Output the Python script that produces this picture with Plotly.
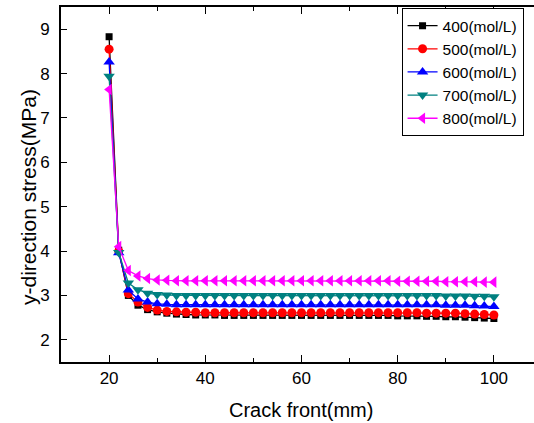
import plotly.graph_objects as go

crack_front = list(range(20, 101, 2))

s400 = [8.83, 4.02, 3.00, 2.78, 2.68, 2.63, 2.60, 2.58, 2.57, 2.56,
        2.56, 2.56, 2.55, 2.55, 2.55, 2.55, 2.55, 2.55, 2.55, 2.55,
        2.55, 2.55, 2.55, 2.55, 2.55, 2.55, 2.55, 2.55, 2.55, 2.55,
        2.54, 2.54, 2.54, 2.53, 2.53, 2.52, 2.52, 2.51, 2.50, 2.49, 2.48]
s500 = [8.55, 4.00, 3.04, 2.85, 2.73, 2.67, 2.64, 2.63, 2.62, 2.62,
        2.61, 2.61, 2.61, 2.61, 2.61, 2.61, 2.61, 2.61, 2.61, 2.61,
        2.61, 2.61, 2.61, 2.61, 2.61, 2.61, 2.61, 2.61, 2.61, 2.61,
        2.61, 2.61, 2.61, 2.60, 2.60, 2.60, 2.60, 2.59, 2.58, 2.57, 2.56]
s600 = [8.26, 3.96, 3.12, 2.92, 2.85, 2.81, 2.80, 2.79, 2.79, 2.79,
        2.79, 2.79, 2.79, 2.79, 2.79, 2.79, 2.79, 2.79, 2.79, 2.79,
        2.79, 2.79, 2.79, 2.79, 2.79, 2.79, 2.79, 2.79, 2.79, 2.79,
        2.79, 2.79, 2.79, 2.79, 2.79, 2.78, 2.78, 2.78, 2.77, 2.76, 2.75]
s700 = [7.94, 3.97, 3.28, 3.13, 3.05, 3.02, 3.01, 3.00, 3.00, 3.00,
        3.00, 3.00, 3.00, 3.00, 3.00, 3.00, 3.00, 3.00, 3.00, 3.00,
        3.00, 3.00, 3.00, 3.00, 3.00, 3.00, 3.00, 3.00, 3.00, 3.00,
        3.00, 3.00, 3.00, 3.00, 3.00, 2.99, 2.99, 2.99, 2.98, 2.98, 2.97]
s800 = [7.64, 4.10, 3.56, 3.44, 3.38, 3.35, 3.34, 3.33, 3.33, 3.33,
        3.33, 3.33, 3.33, 3.33, 3.33, 3.33, 3.33, 3.33, 3.33, 3.33,
        3.33, 3.33, 3.33, 3.33, 3.33, 3.33, 3.33, 3.33, 3.33, 3.33,
        3.32, 3.32, 3.32, 3.32, 3.32, 3.31, 3.31, 3.31, 3.31, 3.30, 3.30]

series_names = ["400(mol/L)", "500(mol/L)", "600(mol/L)", "700(mol/L)", "800(mol/L)"]
series_values = [s400, s500, s600, s700, s800]
colors = ["#000000", "#FF0000", "#0000FF", "#008080", "#FF00FF"]
symbols = ["square", "circle", "triangle-up", "triangle-down", "triangle-left"]
sizes = [7, 9, 10, 10, 10]

x_title = "Crack front(mm)"
y_title = "y-direction stress(MPa)"

fig = go.Figure()
for name, vals, c, sym, sz in zip(series_names, series_values, colors, symbols, sizes):
    fig.add_trace(go.Scatter(
        x=crack_front, y=vals, name=name, mode="lines+markers",
        line=dict(color=c, width=1.3),
        marker=dict(color=c, symbol=sym, size=sz),
    ))

fig.update_layout(
    width=534, height=423,
    margin=dict(l=61, r=0, t=7, b=61),
    paper_bgcolor="white", plot_bgcolor="white",
    font=dict(family="Liberation Sans, Arial", color="black", size=17),
    showlegend=True,
    legend=dict(
        x=0.72, y=0.997, xanchor="left", yanchor="top",
        bgcolor="white", bordercolor="black", borderwidth=1,
        font=dict(size=15.5), tracegroupgap=0, itemsizing="trace",
    ),
    annotations=[
        dict(text=x_title, xref="paper", yref="paper", x=(301 - 61) / 473, y=-(410 - 362) / 355,
             xanchor="center", yanchor="middle", showarrow=False, font=dict(size=20)),
        dict(text=y_title, xref="paper", yref="paper", x=(29 - 61) / 473, y=1 - (197 - 7) / 355,
             xanchor="center", yanchor="middle", showarrow=False, textangle=-90, font=dict(size=21)),
    ],
)
fig.update_xaxes(
    range=[10, 108.34], showgrid=False, zeroline=False,
    showline=True, linecolor="black", linewidth=1.6, mirror="ticks",
    ticks="inside", ticklen=7, tickwidth=1.3, tickcolor="black",
    tickvals=[20, 40, 60, 80, 100], ticklabelstandoff=0,
    minor=dict(tickvals=[30, 50, 70, 90], ticks="inside", ticklen=4, tickwidth=1.3, tickcolor="black"),
)
fig.update_yaxes(
    range=[1.5, 9.5], showgrid=False, zeroline=False,
    showline=True, linecolor="black", linewidth=1.6, mirror=False,
    ticks="inside", ticklen=6, tickwidth=1.3, tickcolor="black",
    tickvals=[2, 3, 4, 5, 6, 7, 8, 9], ticklabelstandoff=6,
)

fig.write_html("out.html")
